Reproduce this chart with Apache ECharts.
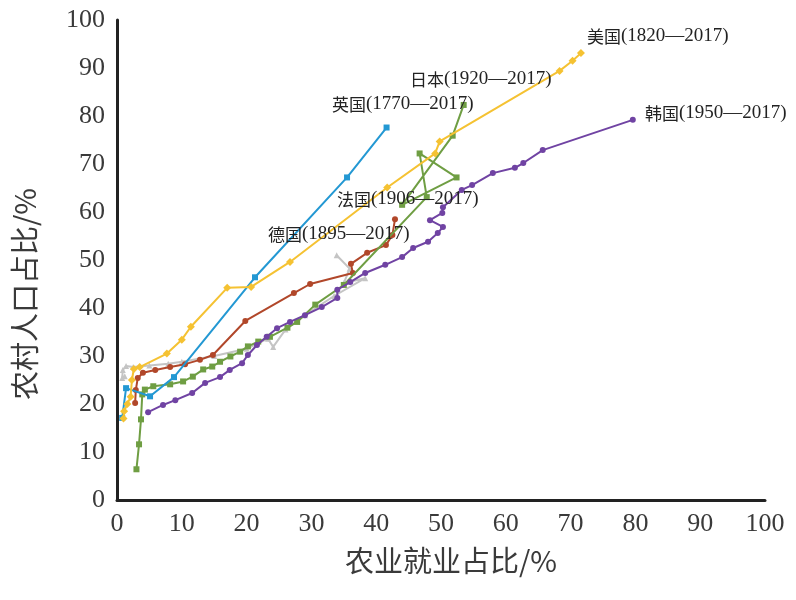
<!DOCTYPE html>
<html><head><meta charset="utf-8">
<script src="https://cdn.jsdelivr.net/npm/echarts@6/dist/echarts.min.js"></script>
<style>html,body{margin:0;padding:0;background:#fff}#c{width:796px;height:600px}</style>
</head><body><div id="c"></div>
<script>
// ---- data (x = 农业就业占比 %, y = 农村人口占比 %) ----
const xTicks = [0,10,20,30,40,50,60,70,80,90,100];
const yTicks = [0,10,20,30,40,50,60,70,80,90,100];

const ukX = [41.6, 35.5, 21.3, 8.8, 5.1, 1.4, 0.8];
const ukY = [77.6, 67.2, 46.4, 25.6, 21.6, 23.3, 17.1];

const usX = [71.6, 70.3, 68.3, 49.8, 49.1, 41.7, 26.7, 20.7, 17.0, 11.4, 10.0, 7.7, 3.5, 2.6, 2.3, 2.1, 1.6, 1.1, 1.0];
const usY = [93.1, 91.5, 89.4, 74.7, 72.2, 65.1, 49.6, 44.4, 44.2, 36.1, 33.4, 30.5, 27.7, 27.3, 25.0, 21.5, 20.0, 18.5, 17.0];

const frX = [42.9, 42.5, 41.5, 38.6, 36.1, 36.4, 29.8, 27.3, 19.8, 14.8, 12.8, 10.5, 8.2, 5.9, 4.0, 3.2, 2.9, 2.8];
const frY = [58.5, 55.2, 53.1, 51.5, 49.2, 47.3, 45.0, 43.1, 37.3, 30.2, 29.2, 28.3, 27.7, 27.1, 26.5, 25.4, 22.9, 20.2];

const deX = [33.9, 35.9, 35.0, 38.3, 33.5, 29.0, 26.0, 24.1, 23.3, 20.0, 15.0, 10.0, 7.9, 5.0, 2.5, 1.4, 0.9, 0.8, 1.2];
const deY = [51.0, 48.2, 45.2, 46.2, 42.5, 38.5, 35.5, 31.9, 33.6, 31.5, 30.0, 28.8, 28.4, 28.0, 27.7, 27.9, 27.1, 25.4, 25.8];

const jpX = [53.5, 51.8, 44.0, 52.4, 46.7, 47.8, 35.0, 30.6, 27.8, 26.3, 23.6, 21.8, 20.2, 19.0, 17.5, 15.9, 14.7, 13.3, 11.7, 10.2, 8.2, 5.6, 4.3, 3.9, 3.7, 3.4, 3.0];
const jpY = [82.3, 75.9, 61.5, 67.2, 72.2, 63.1, 44.8, 40.7, 37.1, 35.9, 34.0, 33.0, 32.0, 30.9, 29.9, 28.8, 27.8, 27.2, 25.7, 24.7, 24.1, 23.7, 23.0, 22.0, 16.8, 11.6, 6.4];

const krX = [79.6, 65.7, 62.7, 61.4, 58.0, 54.8, 53.2, 50.3, 50.2, 48.3, 50.3, 49.5, 48.0, 45.7, 44.0, 41.4, 38.3, 36.0, 34.0, 34.0, 31.6, 29.0, 26.7, 24.7, 23.1, 21.6, 20.2, 19.3, 17.4, 15.9, 13.6, 11.6, 9.0, 7.1, 4.8];
const krY = [79.2, 72.9, 70.2, 69.2, 68.1, 65.6, 64.6, 61.0, 59.8, 58.3, 56.9, 55.6, 53.8, 52.5, 50.6, 49.0, 47.3, 45.4, 43.8, 42.1, 40.2, 38.5, 37.1, 35.8, 34.0, 32.3, 30.2, 28.5, 27.1, 25.6, 24.4, 22.3, 20.8, 19.8, 18.3];

const labels = [
  {cn:'美国', yr:'(1820—2017)', left:587, top:27},
  {cn:'日本', yr:'(1920—2017)', left:410, top:70},
  {cn:'英国', yr:'(1770—2017)', left:332, top:95},
  {cn:'韩国', yr:'(1950—2017)', left:645, top:104},
  {cn:'法国', yr:'(1906—2017)', left:337, top:190},
  {cn:'德国', yr:'(1895—2017)', left:268, top:225}
];
const xTitle = '农业就业占比/%';
const yTitle = '农村人口占比/%';

function pairs(xs, ys){ return xs.map((x,i)=>[x, ys[i]]); }
function mk(name, xs, ys, color, symbol, size, z){
  return {name, type:'line', data:pairs(xs,ys), z,
    symbol, symbolSize:size, showAllSymbol:true,
    lineStyle:{color, width:2}, itemStyle:{color},
    emphasis:{disabled:true}, animation:false};
}

const chart = echarts.init(document.getElementById('c'), null, {renderer:'canvas'});
const serif = '"Liberation Serif","DejaVu Serif",serif';
const cjk = '"Noto Sans CJK SC","Noto Sans CJK JP",sans-serif';
const graphics = labels.map(l=>({type:'text', left:l.left, top:l.top, z:100,
    style:{text:'{a|'+l.cn+'}{b|'+l.yr+'}', rich:{
      a:{fontFamily:cjk, fontSize:17, fill:'#222', verticalAlign:'middle'},
      b:{fontFamily:serif, fontSize:19, fill:'#222', verticalAlign:'middle'}}}}));
graphics.push({type:'text', left:345, top:546, z:100,
  style:{text:xTitle, font:'29px '+cjk, fill:'#3a3a3a'}});
graphics.push({type:'text', x:10, y:400, rotation:Math.PI/2, z:100,
  style:{text:yTitle, font:'29px '+cjk, fill:'#3a3a3a', textVerticalAlign:'top'}});

chart.setOption({
  backgroundColor:'#ffffff',
  animation:false,
  grid:{left:117, right:31, top:20, bottom:100, containLabel:false},
  xAxis:{type:'value', min:xTicks[0], max:xTicks[xTicks.length-1], interval:10,
    axisLine:{show:true, onZero:false, lineStyle:{color:'#222', width:3}},
    axisTick:{show:false}, splitLine:{show:false},
    axisLabel:{color:'#3a3a3a', fontFamily:serif, fontSize:26, margin:11}},
  yAxis:{type:'value', min:yTicks[0], max:yTicks[yTicks.length-1], interval:10,
    axisLine:{show:true, onZero:false, lineStyle:{color:'#222', width:3}},
    axisTick:{show:false}, splitLine:{show:false},
    axisLabel:{color:'#3a3a3a', fontFamily:serif, fontSize:26, margin:12}},
  series:[
    mk('德国', deX, deY, '#c4c4c4', 'triangle', 6, 2),
    mk('法国', frX, frY, '#b1472a', 'circle', 6, 3),
    mk('日本', jpX, jpY, '#6f9e43', 'rect', 6, 4),
    mk('英国', ukX, ukY, '#2398d3', 'rect', 6, 5),
    mk('美国', usX, usY, '#f5c232', 'diamond', 8, 6),
    mk('韩国', krX, krY, '#7043a3', 'circle', 6, 7)
  ],
  graphic: graphics
});
</script></body></html>
